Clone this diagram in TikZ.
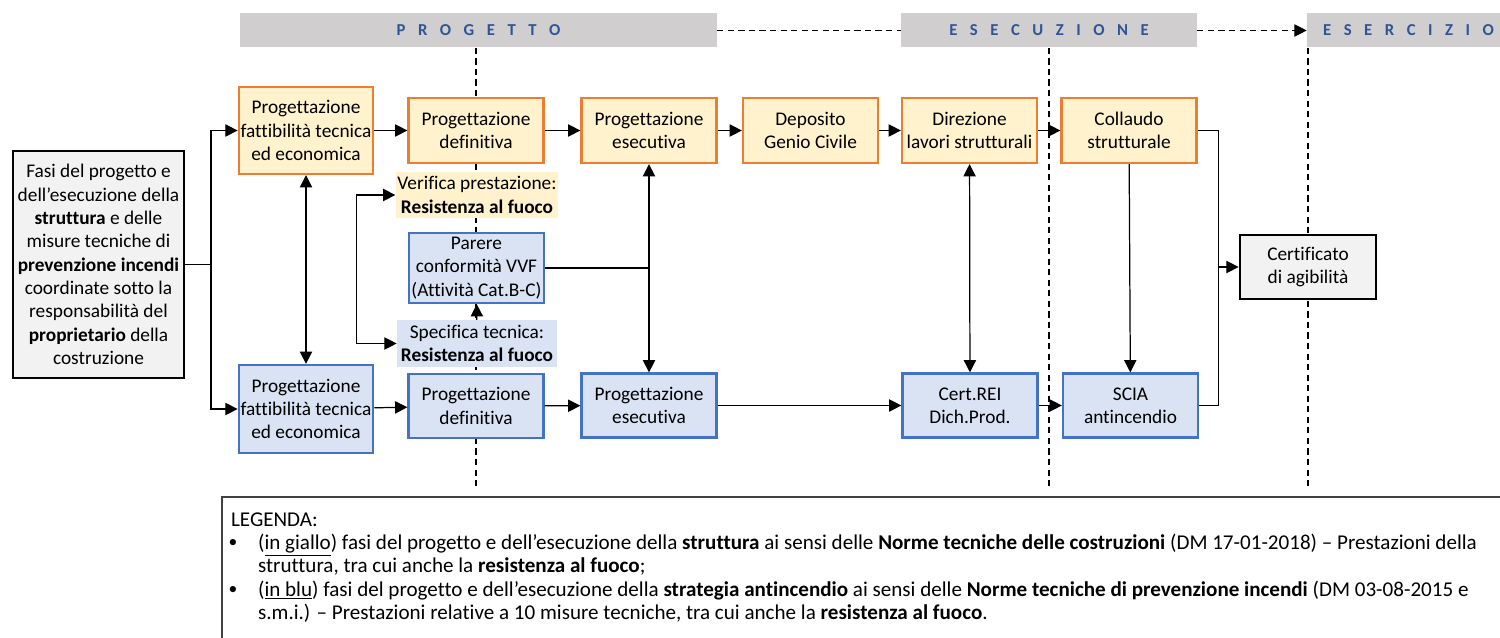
\documentclass[tikz,border=0pt]{standalone}
\usepackage{fontspec}
\setmainfont{Carlito}[Ligatures=CommonOff]
\usetikzlibrary{arrows.meta,backgrounds}
\definecolor{giallo}{RGB}{255,242,204}
\definecolor{arancio}{RGB}{237,125,49}
\definecolor{azzurro}{RGB}{218,227,243}
\definecolor{blu}{RGB}{68,114,196}
\definecolor{grigio}{RGB}{208,206,206}
\definecolor{chiaro}{RGB}{242,242,242}
\definecolor{titolo}{RGB}{47,85,151}

\begin{document}
\begin{tikzpicture}[x=0.02cm,y=-0.02cm,
  >={Triangle[length=7pt,width=7pt]},
  every node/.style={font=\fontsize{11}{13.3}\selectfont, align=center, inner sep=1pt},
  fase/.style={draw, line width=1.3pt, minimum width=2.7cm, minimum height=1.3cm},
  struttura/.style={fase, draw=arancio, fill=giallo},
  antincendio/.style={fase, draw=blu, fill=azzurro},
  nota/.style={minimum width=3.2cm, minimum height=0.93cm},
  esterno/.style={fase, draw=black, line width=1.6pt, fill=chiaro},
  barra/.style={fill=grigio, minimum height=0.68cm, text=titolo, font=\fontsize{9.5}{11}\bfseries\selectfont},
  voce/.style={anchor=west, align=left, font=\fontsize{12}{13.3}\selectfont},
  linea/.style={line width=0.7pt},
  freccia/.style={linea, ->},
  guida/.style={dash pattern=on 3.5pt off 2.5pt, line width=0.6pt}]
\useasboundingbox (0,0) rectangle (1500,638);
%testata
\node[barra, minimum width=9.54cm] (progetto) at (478.5,30.5) {\spaceskip=0.75em P R O G E T T O};
\node[barra, minimum width=5.92cm] (esecuzione) at (1049,30.5) {\spaceskip=0.75em E S E C U Z I O N E};
\node[barra, minimum width=4.06cm] (esercizio) at (1408.5,30.5) {\spaceskip=0.75em E S E R C I Z I O};
\draw[guida] (progetto.east) -- (esecuzione.west);
\draw[guida, ->] (esecuzione.east) -- (esercizio.west);
%committente
\node[esterno, minimum width=3.42cm, minimum height=4.54cm] (fasi) at (98.5,264.5) {Fasi del progetto e\\dell’esecuzione della\\\textbf{struttura} e delle\\misure tecniche di\\\textbf{prevenzione incendi}\\coordinate sotto la\\responsabilità del\\\textbf{proprietario} della\\costruzione};
%struttura
\node[struttura, minimum width=2.68cm, minimum height=1.74cm] (pfteS) at (306,130.5) {Progettazione\\fattibilità tecnica\\ed economica};
\node[struttura] (defS) at (476,130.5) {Progettazione\\definitiva};
\node[struttura] (esecS) at (649,130.5) {Progettazione\\esecutiva};
\node[struttura] (deposito) at (810.5,130.5) {Deposito\\Genio Civile};
\node[struttura] (direzione) at (969.5,130.5) {Direzione\\lavori strutturali};
\node[struttura] (collaudo) at (1129,130.5) {Collaudo\\strutturale};
%prestazione
\node[nota, fill=giallo] (verifica) at (477,195) {Verifica prestazione:\\\textbf{Resistenza al fuoco}};
\node[antincendio, minimum height=1.4cm] (parere) at (476.5,268) {Parere\\conformità VVF\\(Attività Cat.B-C)};
\node[nota, fill=azzurro] (specifica) at (477,343.5) {Specifica tecnica:\\\textbf{Resistenza al fuoco}};
%antincendio
\node[antincendio, minimum width=2.68cm, minimum height=1.76cm] (pfteA) at (306,409) {Progettazione\\fattibilità tecnica\\ed economica};
\node[antincendio, minimum height=1.28cm] (defA) at (476,406) {Progettazione\\definitiva};
\node[antincendio, minimum height=1.28cm] (esecA) at (649,405.5) {Progettazione\\esecutiva};
\node[antincendio, minimum height=1.28cm] (certrei) at (970,405.5) {Cert.REI\\Dich.Prod.};
\node[antincendio, minimum height=1.28cm] (scia) at (1130.5,405.5) {SCIA\\antincendio};
%esercizio
\node[esterno, minimum width=2.72cm, minimum height=1.28cm] (certificato) at (1308,267) {Certificato\\di agibilità};
\begin{scope}[on background layer]
\draw[guida] (defS |- progetto.south) -- ++(0,438);
\draw[guida] (esecuzione.south) -- ++(0,438);
\draw[guida] (certificato |- esercizio.south) -- ++(0,438);
\end{scope}
\coordinate (split) at (211,264.5);
\coordinate (join) at (1218.5,267);
\draw[linea] (fasi.east) -- (split);
\draw[freccia] (split) |- (pfteS.west);
\draw[freccia] (split) |- (pfteA.west);
\draw[freccia] (pfteS) -- (defS);
\draw[freccia] (defS) -- (esecS);
\draw[freccia] (esecS) -- (deposito);
\draw[freccia] (deposito) -- (direzione);
\draw[freccia] (direzione) -- (collaudo);
\draw[freccia] (pfteA) -- (defA);
\draw[freccia] (defA) -- (esecA);
\draw[freccia] (esecA) -- (certrei);
\draw[freccia] (certrei) -- (scia);
\draw[freccia, <->] (pfteS) -- (pfteA);
\draw[freccia, <->] (verifica.west) -- ++(-39,0) |- (specifica.west);
\draw[freccia] (specifica) -- (parere);
\draw[linea] (parere.east) -- (parere.east -| esecS);
\draw[freccia, <->] (esecS) -- (esecA);
\draw[freccia, <->] (direzione) -- (certrei);
\draw[freccia] (collaudo) -- (scia);
\draw[freccia] (collaudo.east) -| (join) -- (certificato.west);
\draw[linea] (scia.east) -| (join);
%legenda
\draw[line width=1pt, black!75] (1500,497) -- (222,497) -- (222,638);
\node[voce] (legenda) at (229,520) {LEGENDA:};
\node[font=\fontsize{10}{12}\selectfont] (puntoA) at (233,543) {•};
\node[voce] (voceA) at (256,554.5) {(\underline{in giallo}) fasi del progetto e dell’esecuzione della \textbf{struttura} ai sensi delle \textbf{Norme tecniche delle costruzioni} (DM 17-01-2018) – Prestazioni della\\struttura, tra cui anche la \textbf{resistenza al fuoco};};
\node[font=\fontsize{10}{12}\selectfont] (puntoB) at (233,590) {•};
\node[voce] (voceB) at (256,601.5) {(\underline{in blu}) fasi del progetto e dell’esecuzione della \textbf{strategia antincendio} ai sensi delle \textbf{Norme tecniche di prevenzione incendi} (DM 03-08-2015 e\\s.m.i.) – Prestazioni relative a 10 misure tecniche, tra cui anche la \textbf{resistenza al fuoco}.};
\end{tikzpicture}
\end{document}
